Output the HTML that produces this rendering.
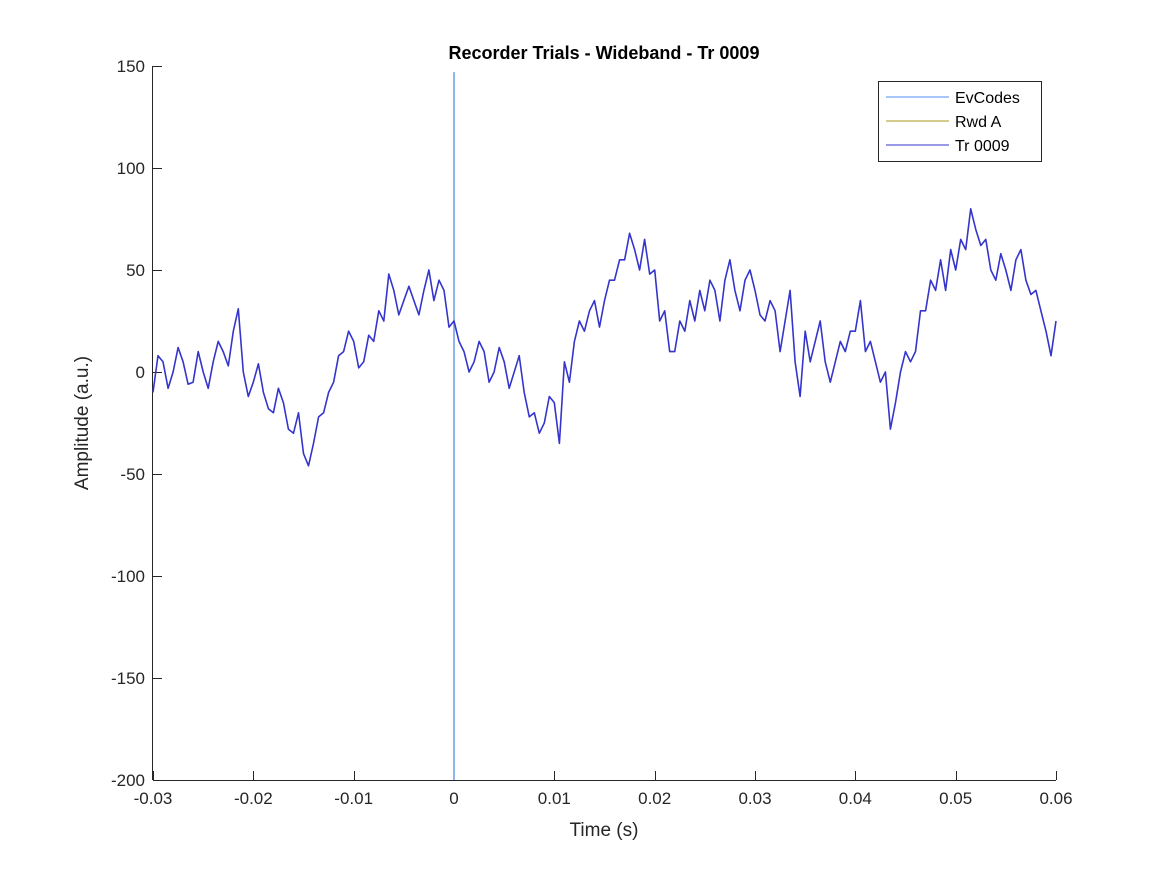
<!DOCTYPE html>
<html><head><meta charset="utf-8"><style>
body{margin:0;background:#fff;}
svg text{font-family:"Liberation Sans",Arial,sans-serif;fill:#262626;}
</style></head><body>
<svg id="chart" width="1167" height="875" viewBox="0 0 1167 875" xmlns="http://www.w3.org/2000/svg">
<rect width="1167" height="875" fill="#fff"/>
<text x="604" y="59" text-anchor="middle" font-size="18" font-weight="bold" style="fill:#000">Recorder Trials - Wideband - Tr 0009</text>
<g id="axes"></g>
<g id="series"></g>
<text x="604" y="836" text-anchor="middle" font-size="19">Time (s)</text>
<text transform="translate(88,423) rotate(-90)" text-anchor="middle" font-size="19">Amplitude (a.u.)</text>
<g>
<rect x="878.5" y="81.5" width="163" height="80" fill="#fff" stroke="#262626" stroke-width="1"/>
<line x1="886" y1="97" x2="949" y2="97" stroke="#4d8fef" stroke-width="1"/>
<text x="955" y="103" font-size="16" style="fill:#000">EvCodes</text>
<line x1="886" y1="121" x2="949" y2="121" stroke="#a89a1a" stroke-width="1"/>
<text x="955" y="127" font-size="16" style="fill:#000">Rwd A</text>
<line x1="886" y1="145" x2="949" y2="145" stroke="#3333cc" stroke-width="1"/>
<text x="955" y="151" font-size="16" style="fill:#000">Tr 0009</text>
</g>
</svg>
<script>
const xTicks=[-0.03,-0.02,-0.01,0,0.01,0.02,0.03,0.04,0.05,0.06];
const xTickLabels=["-0.03","-0.02","-0.01","0","0.01","0.02","0.03","0.04","0.05","0.06"];
const yTicks=[-200,-150,-100,-50,0,50,100,150];
const yTickLabels=["-200","-150","-100","-50","0","50","100","150"];
const tStart=-0.03;
const tStep=0.0005;
const eventTimes=[0];
const trialValues=[-10,8,5,-8,0,12,5,-6,-5,10,
0,-8,5,15,10,3,20,31,0,-12,
-5,4,-10,-18,-20,-8,-15,-28,-30,-20,
-40,-46,-35,-22,-20,-10,-5,8,10,20,
15,2,5,18,15,30,25,48,40,28,
35,42,35,28,40,50,35,45,40,22,
25,15,10,0,5,15,10,-5,0,12,
5,-8,0,8,-10,-22,-20,-30,-25,-12,
-15,-35,5,-5,15,25,20,30,35,22,
35,45,45,55,55,68,60,50,65,48,
50,25,30,10,10,25,20,35,25,40,
30,45,40,25,45,55,40,30,45,50,
40,28,25,35,30,10,25,40,5,-12,
20,5,15,25,5,-5,5,15,10,20,
20,35,10,15,5,-5,0,-28,-15,0,
10,5,10,30,30,45,40,55,40,60,
50,65,60,80,70,62,65,50,45,58,
50,40,55,60,45,38,40,30,20,8,25];

const X0=153,X1=1056,Y0=780,Y1=66;
const xMin=-0.03,xMax=0.06,yMin=-200,yMax=150;
function sx(v){return X0+(v-xMin)/(xMax-xMin)*(X1-X0);}
function sy(v){return Y0-(v-yMin)/(yMax-yMin)*(Y0-Y1);}
const NS="http://www.w3.org/2000/svg";
const axes=document.getElementById('axes');
const series=document.getElementById('series');
function mk(tag,attrs,parent){const e=document.createElementNS(NS,tag);for(const k in attrs)e.setAttribute(k,attrs[k]);parent.appendChild(e);return e;}

const xa=mk('line',{x1:X0,y1:Y0+0.5,x2:X1,y2:Y0+0.5,stroke:'#262626','stroke-width':1},axes);


const ya=mk('line',{x1:X0-0.5,y1:Y1,x2:X0-0.5,y2:Y0,stroke:'#262626','stroke-width':1},axes);



xTicks.forEach((v,i)=>{
  const x=Math.round(sx(v))+0.5;
  const t=mk('line',{x1:x,y1:Y0,x2:x,y2:Y0-9,stroke:'#262626','stroke-width':1},axes);
  
  
  const l=mk('text',{x:sx(v),y:Y0+24,'text-anchor':'middle','font-size':17},axes);
  l.textContent=xTickLabels[i];
  
  
});
yTicks.forEach((v,i)=>{
  const y=Math.round(sy(v))+0.5;
  const t=mk('line',{x1:X0,y1:y,x2:X0+9,y2:y,stroke:'#262626','stroke-width':1},axes);
  
  
  const l=mk('text',{x:X0-8,y:sy(v)+6,'text-anchor':'end','font-size':17},axes);
  l.textContent=yTickLabels[i];
  
  
});

eventTimes.forEach(t=>{
  const x=sx(t);
  const e=mk('line',{x1:x,y1:sy(147),x2:x,y2:Y0,stroke:'#8fb4f0','stroke-width':2},series);
  
  
});

const pts=trialValues.map((v,i)=>sx(tStart+i*tStep).toFixed(1)+','+sy(v).toFixed(1)).join(' ');
const p=mk('polyline',{points:pts,fill:'none',stroke:'#3535cc','stroke-width':1.6,'stroke-linejoin':'round'},series);


</script>
</body></html>
